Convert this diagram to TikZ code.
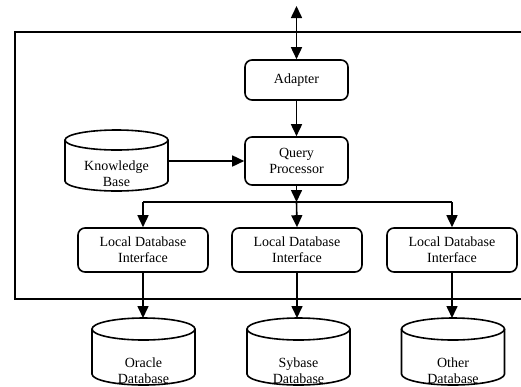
\documentclass[tikz,border=0pt]{standalone}
\usepackage{fontspec}
\setmainfont{Liberation Serif}
\usetikzlibrary{arrows.meta}
\newcommand\drawdbcyl[5]{% cx, top-ellipse-center y, bottom y, rx, ry
  \fill[white] (#1-#4,-#2) -- (#1-#4,-#3) arc[start angle=180,end angle=360,x radius=#4,y radius=#5] -- (#1+#4,-#2) arc[start angle=0,end angle=180,x radius=#4,y radius=#5] -- cycle;
  \draw[ln] (#1-#4,-#2) -- (#1-#4,-#3) arc[start angle=180,end angle=360,x radius=#4,y radius=#5] -- (#1+#4,-#2);
  \draw[ln] (#1,-#2) ellipse[x radius=#4,y radius=#5];
}
\tikzset{
  ln/.style={line width=1.6pt},
  arr/.style={ln,-{Triangle[length=12pt,width=11pt]}},
  darr/.style={ln,{Triangle[length=12pt,width=11pt]}-{Triangle[length=12pt,width=11pt]}},
  box/.style={ln,draw,fill=white,rounded corners=7pt,align=center,inner sep=0pt,
    font=\fontsize{14}{16}\selectfont},
  lbl/.style={align=center,inner sep=0pt,font=\fontsize{14}{16}\selectfont},
}
\begin{document}
\begin{tikzpicture}[x=1pt,y=1pt]
\useasboundingbox (0,0) rectangle (521,-386);
\clip (0,0) rectangle (521,-386);
% outer frame
\draw[ln] (535,-32) -- (15,-32) -- (15,-299) -- (535,-299);
% boxes
\node[box,minimum width=103pt,minimum height=40pt] (adapter) at (296.5,-80) {Adapter};
\node[box,minimum width=103pt,minimum height=48pt] (qp) at (296.5,-161) {Query\\Processor};
\node[box,minimum width=130pt,minimum height=44pt] (ldi1) at (143,-250) {Local Database\\Interface};
\node[box,minimum width=130pt,minimum height=44pt] (ldi2) at (297,-250) {Local Database\\Interface};
\node[box,minimum width=130pt,minimum height=44pt] (ldi3) at (452,-250) {Local Database\\Interface};
% knowledge base cylinder
\drawdbcyl{116.5}{140}{181}{51.5}{10}
\node[lbl] (kb) at (116.5,-174) {Knowledge\\Base};
\coordinate (kbe) at (168,-161);
% database cylinders
\drawdbcyl{143.5}{329}{374}{51.5}{11}
\drawdbcyl{298.5}{329}{374}{51.5}{11}
\drawdbcyl{453}{329}{374}{51.5}{11}
\node[lbl] (oratext) at (143.5,-371) {Oracle\\Database};
\node[lbl] (sybtext) at (298.5,-371) {Sybase\\Database};
\node[lbl] (othtext) at (453,-371) {Other\\Database};
\coordinate (oracle) at (143,-318);
\coordinate (sybase) at (297,-318);
\coordinate (other) at (452,-318);
% connectors
\coordinate (topend) at (296.5,-6);
\coordinate (split) at (296.5,-202);
\draw[darr] (topend) -- (adapter.north);
\draw[arr] (adapter) -- (qp);
\draw[arr] (kbe) -- (qp.west);
\draw[arr] (qp) -- (split);
\draw[ln] (ldi1.north |- split) -- (ldi3.north |- split);
\draw[arr] (ldi1.north |- split) -- (ldi1.north);
\draw[arr] (split) -- (ldi2.north);
\draw[arr] (ldi3.north |- split) -- (ldi3.north);
\draw[arr] (ldi1) -- (oracle);
\draw[arr] (ldi2) -- (sybase);
\draw[arr] (ldi3) -- (other);
\end{tikzpicture}
\end{document}
